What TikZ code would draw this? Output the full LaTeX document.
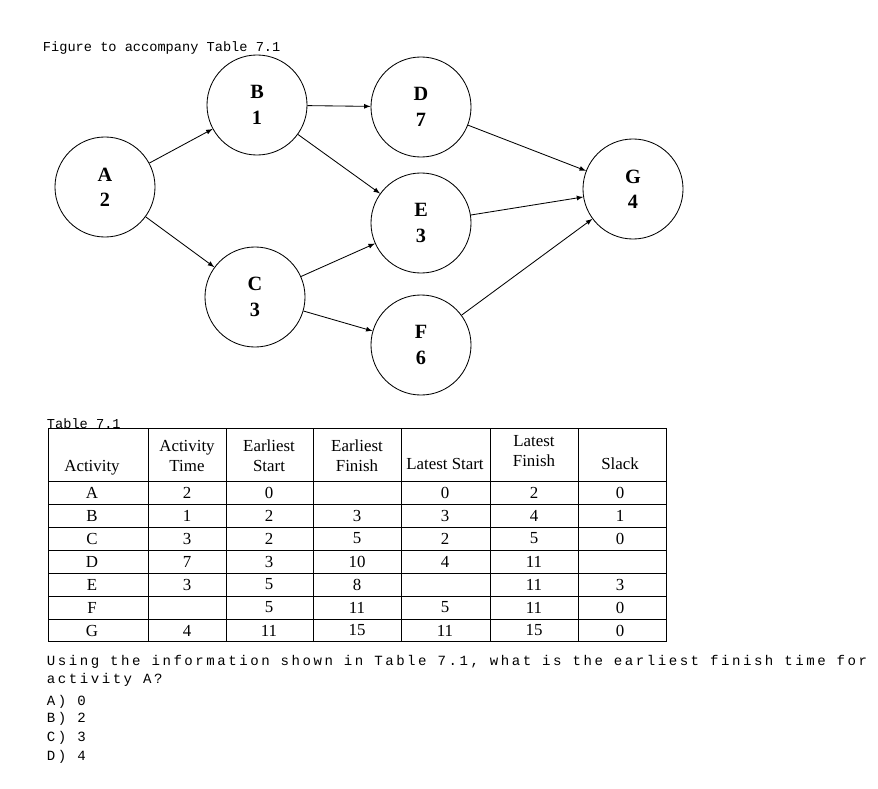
\documentclass[tikz,border=0pt]{standalone}
\usepackage{fontspec}
\setmainfont{Liberation Serif}
\setmonofont{Liberation Mono}
\newfontfamily\widemono[LetterSpace=18]{Liberation Mono}
\usetikzlibrary{arrows,positioning}
\tikzstyle{arrow} = [semithick,->,>=latex]
\tikzstyle{act} = [circle, draw, semithick, minimum size=2.5cm, align=center, font=\Large\bfseries]
\tikzstyle{cell} = [font=\large]
\tikzstyle{mono} = [anchor=west, font=\widemono\fontsize{10}{12}\selectfont]
\tikzstyle{smallmono} = [anchor=west, font=\ttfamily\fontsize{9.7}{12}\selectfont]
\begin{document}
\begin{tikzpicture}[x=0.025cm, y=-0.025cm]
\useasboundingbox (0,0) rectangle (878,788);
% Network
\node[smallmono] (cap) at (38,48) {Figure to accompany Table 7.1};
\node[act] (a) at (105,187) {A\\2};
\node[act] (b) at (257,105) {B\\1};
\node[act] (c) at (255,297) {C\\3};
\node[act] (d) at (421,107) {D\\7};
\node[act] (e) at (421,223) {E\\3};
\node[act] (f) at (421,345) {F\\6};
\node[act] (g) at (633,189) {G\\4};
\draw[arrow] (a) -- (b);
\draw[arrow] (a) -- (c);
\draw[arrow] (b) -- (d);
\draw[arrow] (b) -- (e);
\draw[arrow] (c) -- (e);
\draw[arrow] (c) -- (f);
\draw[arrow] (d) -- (g);
\draw[arrow] (e) -- (g);
\draw[arrow] (f) -- (g);
% Table
\node[smallmono] (tcap) at (42,424) {Table 7.1};
\draw (48,428) rectangle (666,641);
\foreach \x in {148,226,313,401,490,578} \draw (\x,428) -- (\x,641);
\foreach \y in {481,504,527,550,573,596,619} \draw (48,\y) -- (666,\y);
\node[cell] (h1) at (92,468) {Activity};
\node[cell, align=center] (h2) at (187,456) {Activity\\Time};
\node[cell, align=center] (h3) at (269,456) {Earliest\\Start};
\node[cell, align=center] (h4) at (357,456) {Earliest\\Finish};
\node[cell] (h5) at (445,464) {Latest Start};
\node[cell, align=center] (h6) at (534,451) {Latest\\Finish};
\node[cell] (h7) at (620,464) {Slack};
\foreach \r/\t/\es/\ef/\ls/\lf/\s [count=\i] in {
  A/2/0/{}/0/2/0, B/1/2/3/3/4/1, C/3/2/5/2/5/0, D/7/3/10/4/11/{},
  E/3/5/8/{}/11/3, F/{}/5/11/5/11/0, G/4/11/15/11/15/0}{
  \pgfmathsetmacro\yy{481+23*\i-11.5}
  \node[cell] at (92,\yy) {\r};
  \node[cell] at (187,\yy) {\t};
  \node[cell] at (269,\yy) {\es};
  \node[cell] at (357,\yy) {\ef};
  \node[cell] at (445,\yy) {\ls};
  \node[cell] at (534,\yy) {\lf};
  \node[cell] at (620,\yy) {\s};
}
% Question
\node[mono] (q1) at (42,662) {Using the information shown in Table 7.1, what is the earliest finish time for};
\node[mono] (q2) at (42,680) {activity A?};
\node[mono] (qa) at (42,702) {A) 0};
\node[mono] (qb) at (42,719) {B) 2};
\node[mono] (qc) at (42,738) {C) 3};
\node[mono] (qd) at (42,757) {D) 4};
\end{tikzpicture}
\end{document}
